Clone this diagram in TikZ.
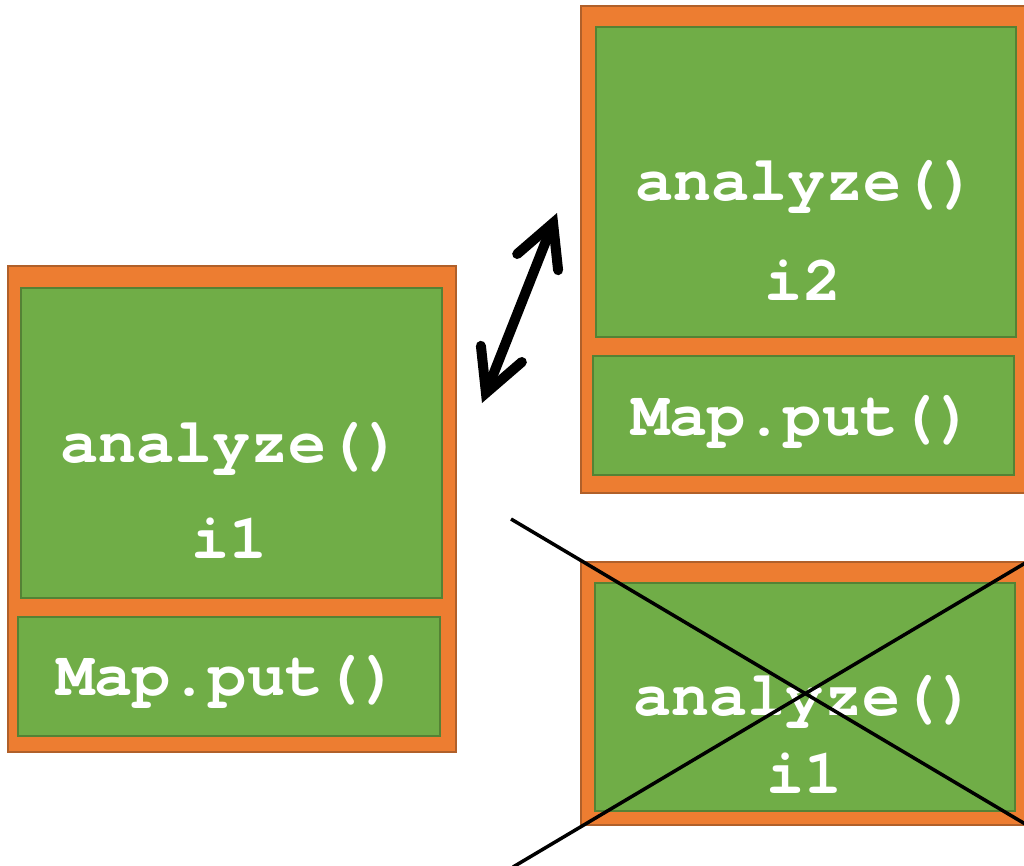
\documentclass[tikz,border=0pt]{standalone}
\usepackage{fontspec}
\setmonofont{TeX Gyre Cursor}
\usetikzlibrary{arrows.meta}
\definecolor{boxorange}{HTML}{ED7D31}
\definecolor{boxorangeedge}{HTML}{B0602A}
\definecolor{boxgreen}{HTML}{70AD47}
\definecolor{boxgreenedge}{HTML}{548235}

\begin{document}
\begin{tikzpicture}[x=1pt,y=-1pt,
  frame/.style={draw=boxorangeedge, fill=boxorange, line width=2pt, inner sep=0pt, minimum width=448pt},
  panel/.style={draw=boxgreenedge, fill=boxgreen, line width=2pt, inner sep=0pt},
  code/.style={text=white, font=\ttfamily\bfseries\fontsize{63.5}{76}\selectfont, inner sep=0pt, anchor=base},
  cross/.style={draw=black, line width=3.5pt},
  swap/.style={draw=black, line width=10pt, line cap=round,
    {Straight Barb[length=42pt, width=44pt, line cap=round]}-{Straight Barb[length=42pt, width=44pt, line cap=round]}}]

\useasboundingbox (0,0) rectangle (1024,865);

% left stack: instance i1
\node[frame, minimum height=486pt] (fL) at (232,509) {};
\node[panel, minimum width=421pt, minimum height=310pt] (aL) at (231.5,443) {};
\node[panel, minimum width=422pt, minimum height=119pt] (mL) at (229,676.5) {};
\node[code] (tL1) at (231.5,462) {analyze()};
\node[code] (tL2) at (229.5,558) {i1};
\node[code] (tL3) at (228,695) {Map.put()};

% upper right stack: instance i2
\node[frame, minimum height=487pt] (fR) at (805,249.5) {};
\node[panel, minimum width=420pt, minimum height=310pt] (aR) at (806,182) {};
\node[panel, minimum width=421pt, minimum height=119pt] (mR) at (803.5,415.5) {};
\node[code] (tR1) at (806.5,200) {analyze()};
\node[code] (tR2) at (803,300) {i2};
\node[code] (tR3) at (803,435) {Map.put()};

% lower right stack: crossed out
\node[frame, minimum height=263pt] (fX) at (805,693.5) {};
\node[panel, minimum width=420pt, minimum height=228pt] (aX) at (805,697) {};
\node[code] (tX1) at (805,715) {analyze()};
\node[code] (tX2) at (804.5,793) {i1};

% cross over the lower right stack
\coordinate (c1) at (511,519);
\coordinate (c2) at (1032,828);
\coordinate (c3) at (513,867);
\coordinate (c4) at (1032,559);
\draw[cross] (c1) -- (c2);
\draw[cross] (c3) -- (c4);

% double arrow between the two instances
\coordinate (s1) at (482,403);
\coordinate (s2) at (557,213);
\draw[swap] (s1) -- (s2);
\end{tikzpicture}
\end{document}
